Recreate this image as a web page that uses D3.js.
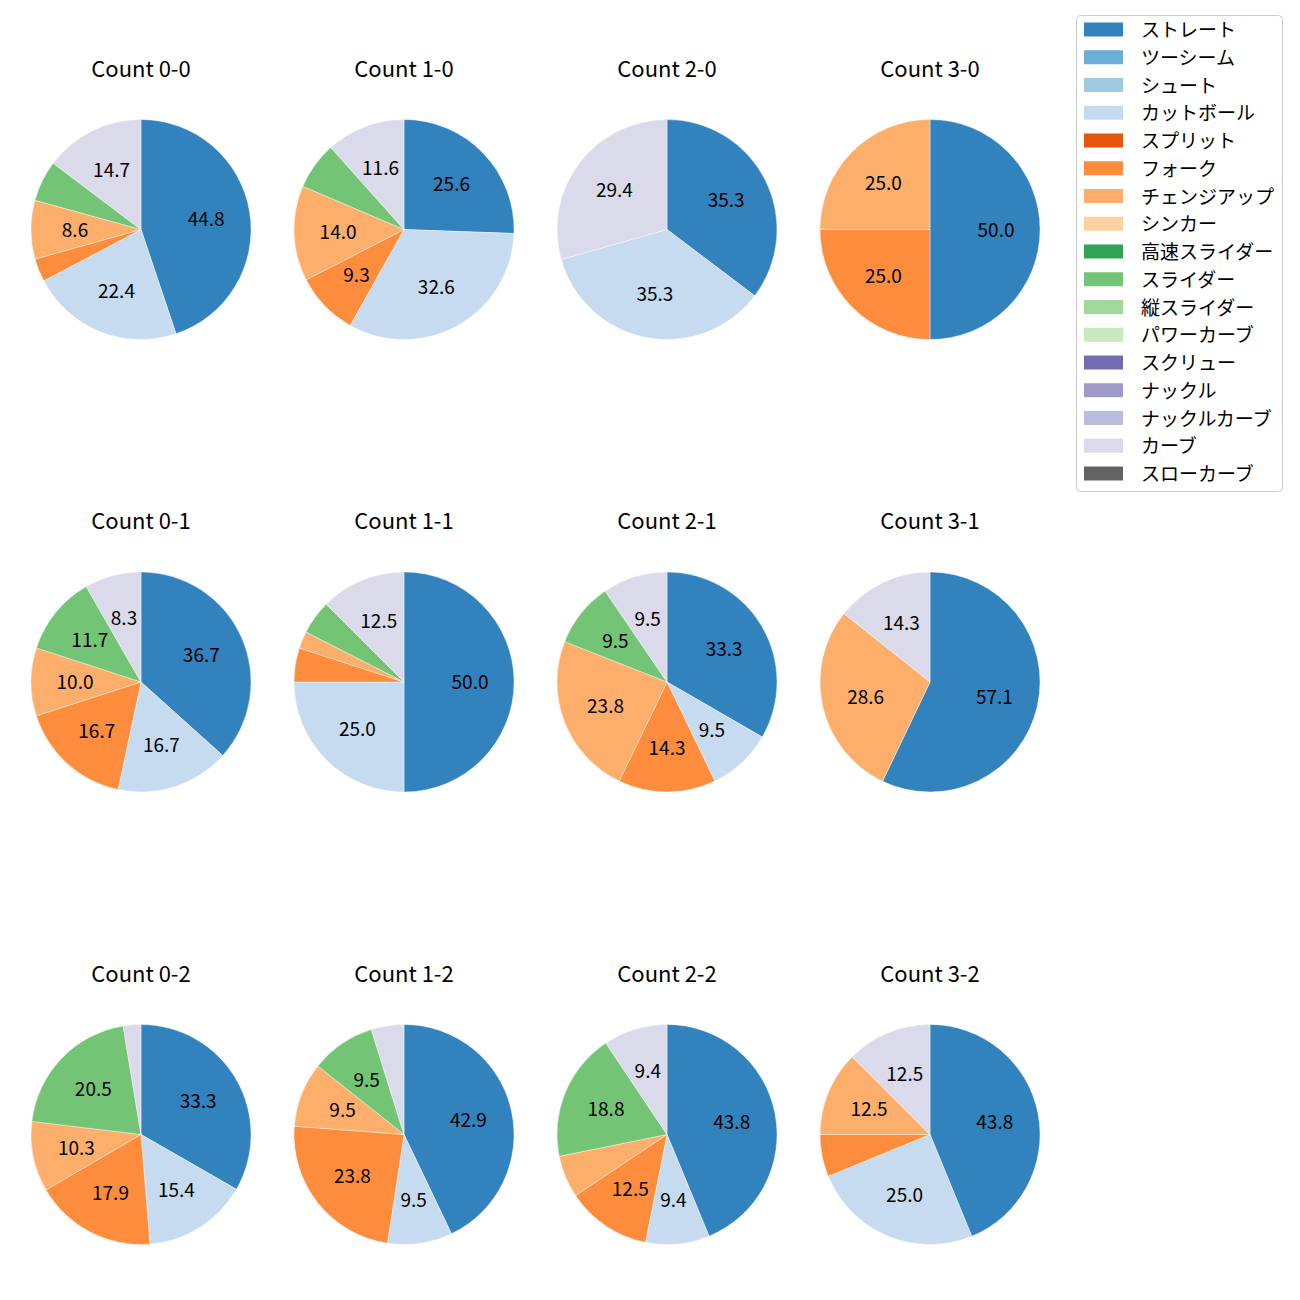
<!DOCTYPE html>
<html>
<head>
<meta charset="utf-8">
<script src="https://cdn.jsdelivr.net/npm/d3@7"></script>
<style>
  html, body { margin: 0; padding: 0; background: #ffffff; }
  svg { display: block; font-family: "Noto Sans CJK JP", "Noto Sans", sans-serif; }
</style>
</head>
<body>
<svg id="chart" width="1300" height="1300"></svg>
<script>
// ---- Data ----
const pitchTypes = ["ストレート","ツーシーム","シュート","カットボール","スプリット","フォーク","チェンジアップ","シンカー","高速スライダー","スライダー","縦スライダー","パワーカーブ","スクリュー","ナックル","ナックルカーブ","カーブ","スローカーブ"];
const pitchColors = ["#3182bd","#6baed6","#9ecae1","#c6dbef","#e6550d","#fd8d3c","#fdae6b","#fdd0a2","#31a354","#74c476","#a1d99b","#c7e9c0","#756bb1","#9e9ac8","#bcbddc","#dadaeb","#636363"];
const countLabels = ["0-0","1-0","2-0","3-0","0-1","1-1","2-1","3-1","0-2","1-2","2-2","3-2"];

// percentages in pitchTypes order
const count00 = [44.8,0,0,22.4,0,3.4,8.6,0,0,6.0,0,0,0,0,0,14.7,0];
const count10 = [25.6,0,0,32.6,0,9.3,14.0,0,0,7.0,0,0,0,0,0,11.6,0];
const count20 = [35.3,0,0,35.3,0,0,0,0,0,0,0,0,0,0,0,29.4,0];
const count30 = [50.0,0,0,0,0,25.0,25.0,0,0,0,0,0,0,0,0,0,0];
const count01 = [36.7,0,0,16.7,0,16.7,10.0,0,0,11.7,0,0,0,0,0,8.3,0];
const count11 = [50.0,0,0,25.0,0,5.0,2.5,0,0,5.0,0,0,0,0,0,12.5,0];
const count21 = [33.3,0,0,9.5,0,14.3,23.8,0,0,9.5,0,0,0,0,0,9.5,0];
const count31 = [57.1,0,0,0,0,0,28.6,0,0,0,0,0,0,0,0,14.3,0];
const count02 = [33.3,0,0,15.4,0,17.9,10.3,0,0,20.5,0,0,0,0,0,2.6,0];
const count12 = [42.9,0,0,9.5,0,23.8,9.5,0,0,9.5,0,0,0,0,0,4.8,0];
const count22 = [43.8,0,0,9.4,0,12.5,6.2,0,0,18.8,0,0,0,0,0,9.4,0];
const count32 = [43.8,0,0,25.0,0,6.2,12.5,0,0,0,0,0,0,0,0,12.5,0];
const countValues = [count00,count10,count20,count30,count01,count11,count21,count31,count02,count12,count22,count32];

const labelThreshold = 8;

// ---- Layout ----
const colCenters = [141, 404, 667, 930];
const rowCenters = [229.5, 682, 1134.5];
const radius = 110;

const svg = d3.select("#chart");
const color = d3.scaleOrdinal().domain(pitchTypes).range(pitchColors);
const pie = d3.pie().sort(null).value(d => d.value);
const arc = d3.arc().innerRadius(0).outerRadius(radius);
const labelArc = d3.arc().innerRadius(radius * 0.6).outerRadius(radius * 0.6);

countLabels.forEach((cl, i) => {
  const cx = colCenters[i % 4], cy = rowCenters[Math.floor(i / 4)];
  const data = pitchTypes.map((p, j) => ({ name: p, value: countValues[i][j] })).filter(d => d.value > 0);
  const g = svg.append("g").attr("transform", `translate(${cx},${cy})`);
  const arcs = pie(data);
  g.selectAll("path").data(arcs).join("path")
    .attr("d", arc)
    .attr("fill", d => color(d.data.name))
    .attr("stroke", "#ffffff")
    .attr("stroke-width", 0.4);
  g.selectAll("text.lbl").data(arcs.filter(d => d.data.value >= labelThreshold)).join("text")
    .attr("class", "lbl")
    .attr("transform", d => `translate(${labelArc.centroid(d)})`)
    .attr("text-anchor", "middle")
    .attr("dominant-baseline", "central")
    .attr("dy", -1.5)
    .attr("font-size", 19)
    .attr("fill", "#000")
    .text(d => d.data.value.toFixed(1));
  svg.append("text")
    .attr("x", cx)
    .attr("y", cy - 153)
    .attr("text-anchor", "middle")
    .attr("font-size", 22)
    .attr("fill", "#000")
    .text("Count " + cl);
});

// ---- Legend ----
const legend = svg.append("g");
legend.append("rect")
  .attr("x", 1076.5).attr("y", 15.5)
  .attr("width", 206).attr("height", 476)
  .attr("rx", 4).attr("ry", 4)
  .attr("fill", "#ffffff").attr("stroke", "#cccccc").attr("stroke-width", 1);
const ly = d3.scaleLinear().domain([0, pitchTypes.length - 1]).range([29.5, 473.5]);
pitchTypes.forEach((p, j) => {
  legend.append("rect")
    .attr("x", 1084).attr("y", ly(j) - 7)
    .attr("width", 39).attr("height", 14)
    .attr("fill", color(p));
  legend.append("text")
    .attr("x", 1141).attr("y", ly(j))
    .attr("dominant-baseline", "central")
    .attr("dy", -1)
    .attr("font-size", 19)
    .attr("fill", "#000")
    .text(p);
});
</script>
</body>
</html>
